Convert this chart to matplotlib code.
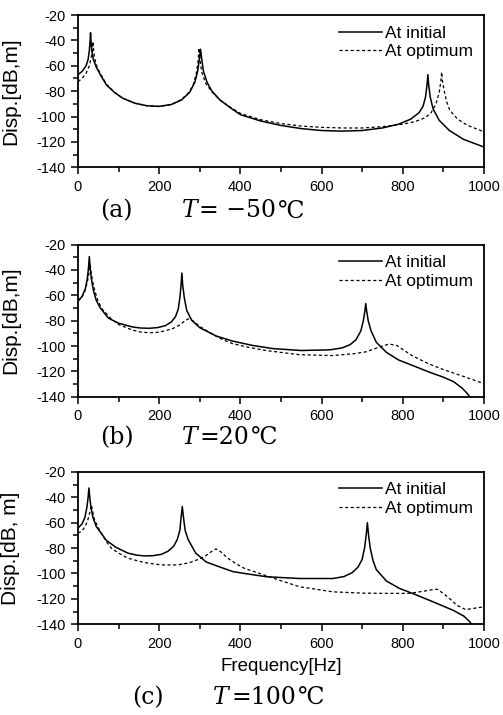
import matplotlib
matplotlib.use("Agg")
import matplotlib.pyplot as plt
from matplotlib.ticker import MultipleLocator

plt.rcParams['font.family'] = ['Liberation Sans', 'DejaVu Sans']
plt.rcParams['axes.unicode_minus'] = False

# (a) T = -50 C
a_init_f = [0, 10, 20, 25, 28, 30, 31, 32, 34, 38, 45, 55, 70, 90, 110, 140, 170, 200, 230, 255,
            275, 288, 295, 299, 302, 305, 309, 318, 330, 350, 375, 400, 450, 500, 550, 600, 650,
            700, 750, 790, 820, 840, 850, 856, 860, 862, 864, 868, 875, 890, 915, 950, 1000]
a_init_db = [-67, -64.5, -60, -55, -48, -40, -34, -40, -48, -55, -61, -67, -75, -81, -85.5, -89.5,
             -91.5, -92, -90.5, -87, -81, -73, -64, -55, -47, -55, -64, -73, -80, -87, -93, -98.5,
             -103.5, -107, -109.5, -111, -111.5, -111, -109, -106, -102, -97, -92, -85, -75, -67,
             -75, -85, -94, -103, -111, -118, -124]
a_opt_f = [0, 10, 20, 28, 33, 36, 37, 38, 41, 47, 55, 70, 90, 110, 140, 170, 200, 230, 255, 275,
           285, 292, 296, 298, 301, 305, 315, 330, 350, 375, 400, 450, 500, 550, 600, 650, 700,
           750, 800, 830, 855, 870, 882, 890, 894, 896, 898, 903, 908, 916, 935, 960, 1000]
a_opt_db = [-72.5, -70, -66, -60, -53, -46, -41, -46, -54, -61, -66, -74.5, -81, -85.5, -89.5,
            -91.5, -92, -90.5, -86.5, -80.5, -74, -65, -56, -46, -56, -65, -74, -80.5, -87, -92.5,
            -97.5, -102.5, -105.5, -107.5, -108.5, -109, -109, -108, -106, -104, -101, -97, -90,
            -81, -72, -65, -72, -81, -88, -95, -102, -107, -112]

# (b) T = 20 C
b_init_f = [0, 10, 18, 23, 26, 28, 30, 33, 38, 45, 55, 75, 100, 135, 155, 175, 195, 215, 230,
            240, 247, 251, 254, 256, 258, 262, 268, 280, 300, 340, 380, 430, 480, 550, 620, 650,
            670, 685, 697, 703, 707, 709, 711, 715, 722, 735, 760, 790, 830, 865, 900, 925, 946,
            958, 968]
b_init_db = [-64.5, -61, -55, -47, -38, -29.5, -38, -47, -56, -64, -70, -78, -82, -85, -85.8, -86,
             -85.5, -84, -81, -77, -71, -62, -52, -42.5, -52, -62, -72, -79.5, -85.5, -92, -96,
             -99.5, -102, -103.5, -103, -101.5, -99, -95, -88, -80, -72, -66.5, -72, -80, -88,
             -97, -105, -111, -116, -120.5, -124.5, -128, -133, -137, -141]
b_opt_f = [0, 10, 18, 24, 28, 30, 32, 36, 42, 50, 60, 80, 100, 135, 155, 175, 195, 215, 235, 250,
           262, 272, 285, 300, 320, 350, 380, 420, 463, 545, 627, 680, 710, 741, 766, 785, 823,
           864, 900, 946, 1000]
b_opt_db = [-64.5, -61.5, -56, -48, -41, -36, -41, -49, -57, -65, -71, -78, -83, -87.5, -89,
            -89.5, -89.2, -88, -86, -83.5, -80.5, -78.5, -80.5, -84.5, -88.5, -94, -98, -101,
            -103.5, -106.8, -107.5, -106, -104.5, -101, -98.4, -99.5, -107.5, -114, -118.5,
            -123.5, -129.6]

# (c) T = 100 C
c_init_f = [0, 10, 17, 22, 25, 27, 29, 32, 37, 45, 53, 70, 94, 123, 145, 164, 185, 205, 222,
            236, 245, 251, 254, 257, 260, 264, 271, 290, 316, 350, 382, 420, 464, 546, 628, 655,
            675, 690, 700, 706, 710, 713, 716, 720, 727, 735, 760, 792, 830, 875, 924, 950, 965,
            972]
c_init_db = [-64.3, -61, -56, -48, -40, -32.7, -40, -48, -56, -63, -66.5, -74, -79.5, -84, -85.6,
             -86.2, -86, -85, -82.5, -78.5, -73, -66, -56, -47.2, -56, -66, -73, -84, -91, -95,
             -98.6, -100.5, -102.6, -104, -104, -102.5, -99.5, -95, -89, -80, -70, -60, -70, -80,
             -90, -97, -106, -111.8, -116.5, -122.4, -129, -133.5, -138, -141]
c_opt_f = [0, 10, 18, 25, 30, 33, 36, 40, 47, 55, 70, 82, 100, 123, 164, 205, 246, 275, 300,
           315, 330, 340, 352, 369, 390, 410, 452, 493, 546, 628, 700, 750, 817, 842, 870, 885,
           900, 918, 933, 955, 975, 1000]
c_opt_db = [-68.3, -66.5, -63, -57, -51, -46, -51, -57, -62, -67, -75, -80, -84, -88, -91.5,
            -93.3, -93.3, -91.5, -88.5, -86, -82.5, -80.7, -83, -88, -92.5, -96, -100.5, -105,
            -110.5, -114.5, -115.5, -115.7, -115.7, -114.5, -113, -112.5, -115.7, -120.5, -125,
            -128.5, -127.5, -126.3]

ylabels = ["Disp.[dB,m]", "Disp.[dB,m]", "Disp.[dB, m]"]
tags = ["(a)", "(b)", "(c)"]
temps = ["= \u221250", "=20", "=100"]

# layout (pixels of the 503x715 canvas)
ax_bottoms = [0.766, 0.445, 0.127]
cap_base = [0.696, 0.379, 0.015]
cap_x = [(100, 182, 199), (100, 182, 199), (132, 213, 231)]

fig = plt.figure(figsize=(5.03, 7.15), dpi=100)
serif = ['DejaVu Serif', 'Noto Sans CJK SC']
W = 503.0
renderer = fig.canvas.get_renderer()

curves = [(a_init_f, a_init_db, a_opt_f, a_opt_db),
          (b_init_f, b_init_db, b_opt_f, b_opt_db),
          (c_init_f, c_init_db, c_opt_f, c_opt_db)]

for i, (f1, d1, f2, d2) in enumerate(curves):
    ax = fig.add_axes([0.155, ax_bottoms[i], 0.807, 0.213])
    ax.plot(f1, d1, color='black', lw=1.1, label='At initial')
    ax.plot(f2, d2, color='black', lw=0.9, ls=(0, (2.5, 2)), label='At optimum')
    ax.set_xlim(0, 1000)
    ax.set_ylim(-140, -20)
    ax.xaxis.set_major_locator(MultipleLocator(200))
    ax.xaxis.set_minor_locator(MultipleLocator(100))
    ax.yaxis.set_major_locator(MultipleLocator(20))
    ax.yaxis.set_minor_locator(MultipleLocator(10))
    ax.tick_params(which='both', direction='out', top=False, right=False, width=1.1,
                   labelsize=10.5, pad=4)
    ax.tick_params(which='major', length=5)
    ax.tick_params(which='minor', length=3.5)
    for s in ax.spines.values():
        s.set_linewidth(1.3)
    ax.set_ylabel(ylabels[i], fontsize=15)
    ax.yaxis.set_label_coords(-0.142, 0.5)
    if i == 2:
        ax.set_xlabel("Frequency[Hz]", fontsize=13.5, labelpad=5)
    ax.legend(loc='upper right', frameon=False, fontsize=12.5, handlelength=2.5,
              handletextpad=0.2, labelspacing=0.2, borderaxespad=0.3, borderpad=0.3)

    # caption pieces: tag, italic T, value, then the degree sign right after the value
    xt, xT, xr = cap_x[i]
    fig.text(xt / W, cap_base[i], tags[i], family=serif, fontsize=17, va='baseline')
    fig.text(xT / W, cap_base[i], "T", family=serif, style='italic', fontsize=17,
             va='baseline')
    tv = fig.text(xr / W, cap_base[i], temps[i], family=serif, fontsize=17, va='baseline')
    x_end = tv.get_window_extent(renderer).x1 / (W * fig.dpi / 100.0)
    fig.text(x_end + 2 / W, cap_base[i], "\u2103", family=serif, fontsize=17, va='baseline')

fig.savefig("out.png", dpi=100)
